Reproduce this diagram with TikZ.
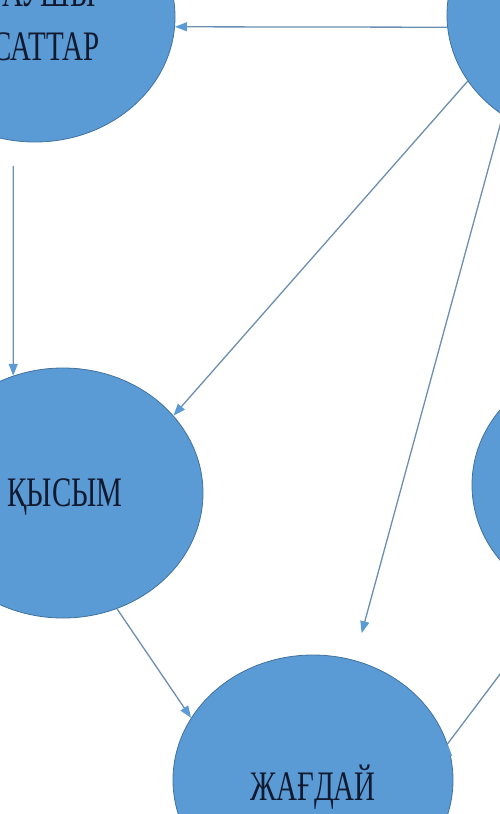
\documentclass[tikz,border=0pt]{standalone}
\usepackage{fontspec}
\setmainfont{Liberation Serif}
\usetikzlibrary{shapes.geometric,arrows.meta}

\definecolor{bluefill}{RGB}{91,155,213}
\definecolor{blueedge}{RGB}{65,113,156}
\definecolor{bluelink}{RGB}{108,142,176}
\definecolor{inkblue}{RGB}{18,26,48}
\newcommand{\narrow}[1]{\scalebox{0.69}[1]{#1}}

\begin{document}
\begin{tikzpicture}[x=1pt,y=-1pt,
	blob/.style={ellipse, draw=blueedge, fill=bluefill, line width=0.8pt, minimum width=280pt, minimum height=250pt, inner sep=0pt},
	tag/.style={inner sep=0pt, align=center, text=inkblue, font=\fontsize{42}{54}\selectfont},
	link/.style={draw=bluelink, line width=1.3pt, -{Triangle[length=12pt,width=9pt,color=bluefill]}}]

	\useasboundingbox (0,0) rectangle (500,814);
	\clip (0,0) rectangle (500,814);

	\node (drv) [blob] at (35, 17) {};
	\node (resp) [blob] at (587, 15) {};
	\node (prs) [blob] at (63, 493) {};
	\node (imp) [blob] at (612, 485) {};
	\node (st) [blob] at (313, 780) {};

	\node (drvtxt) [tag] at (13, 24) {\narrow{ҚОЗҒАУШЫ}\\\narrow{МАҚСАТТАР}};
	\node (prstxt) [tag] at (65, 497) {\narrow{ҚЫСЫМ}};
	\node (sttxt) [tag] at (313, 787) {\narrow{ЖАҒДАЙ}};

	\path[link]
	(resp.185) edge (drv.356)
	(drv.-100.6) edge[shorten <=25pt] (prs.113.7)
	(resp.209.6) edge (prs.35.3)
	(resp.230.6) edge[shorten >=28pt] (st.71.7)
	(prs.-65.2) edge (st.153.3)
	(st.15.1) edge (imp.244.8);

\end{tikzpicture}
\end{document}
